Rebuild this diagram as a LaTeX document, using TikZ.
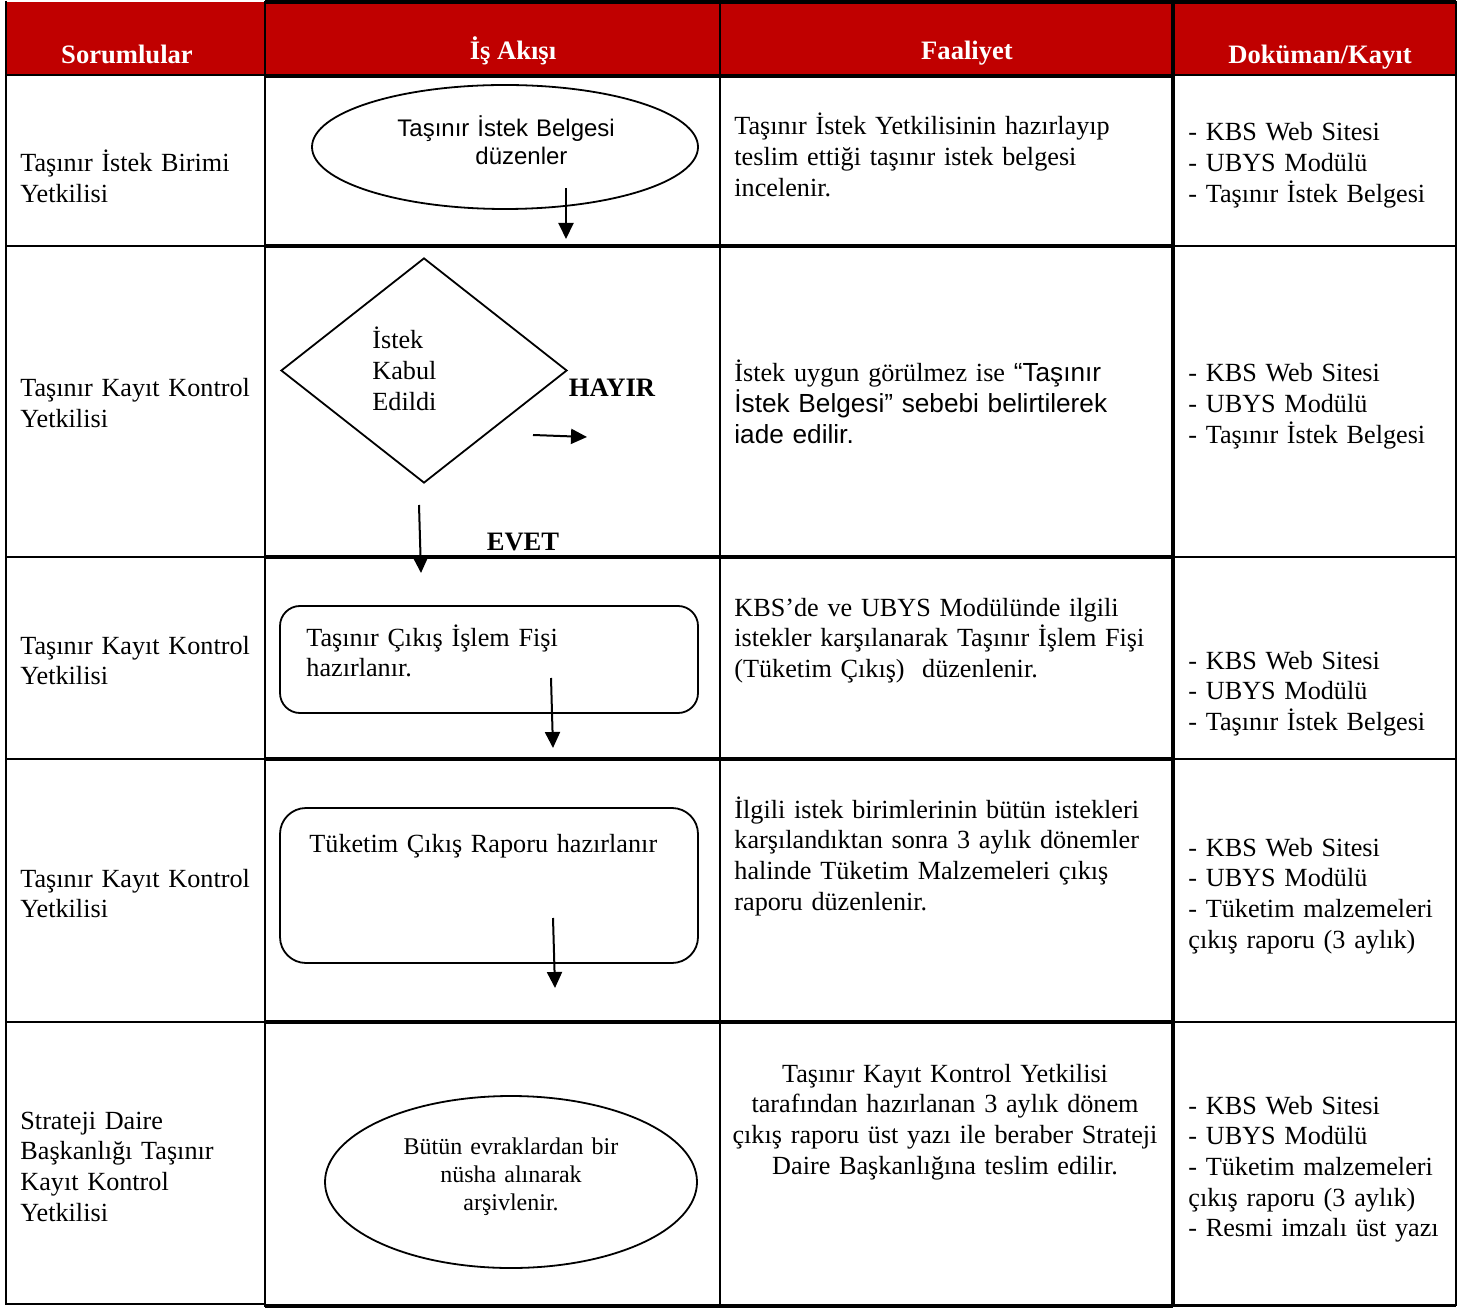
\documentclass[tikz,border=0pt]{standalone}
\usepackage{fontspec}
\setmainfont{Liberation Serif}
\newfontfamily\arialf{Liberation Sans}
\usetikzlibrary{shapes.geometric,arrows.meta}
\definecolor{hdrred}{HTML}{C00000}
\begin{document}
\begin{tikzpicture}[x=0.5pt,y=-0.5pt,
  thinln/.style={line width=1pt},
  thickln/.style={line width=2pt},
  hdrtxt/.style={font=\bfseries\fontsize{13.3}{16}\selectfont, text=white, anchor=base, inner sep=0},
  body/.style={font=\fontsize{13.1}{15.35}\selectfont, anchor=base west, inner sep=0, text width=#1, align=left},
  body/.default=220pt,
  cbody/.style={font=\fontsize{13.1}{15.35}\selectfont, anchor=base, inner sep=0, text width=#1, align=center},
  boldlbl/.style={font=\bfseries\fontsize{13.3}{16}\selectfont, anchor=base, inner sep=0},
  flowline/.style={draw, line width=0.9pt},
  flowell/.style={flowline, ellipse, inner sep=0},
  flowdia/.style={flowline, diamond, inner sep=0},
  flowbox/.style={flowline, rectangle, inner sep=0},
  arr/.style={line width=1pt, -{Triangle[length=8pt,width=7.5pt]}}
]
\useasboundingbox (0,0) rectangle (1465,1309);

% header band
\fill[hdrred] (6,2) rectangle (1456,75);

% horizontal lines: column 1 (thin)
\foreach \yy in {75,246,557,759,1022,1304} \draw[thinln] (6,\yy) -- (265,\yy);
% columns 2-3 (thick)
\draw[thickln] (265,2.5) -- (1456,2.5);
\foreach \yy in {76,246,557,759,1022,1306} \draw[thickln] (265,\yy) -- (1173,\yy);
% column 4
\foreach \yy in {75,246,557,759,1022} \draw[thinln] (1173,\yy) -- (1456,\yy);
\draw[line width=1.5pt] (1173,1305) -- (1456,1305);
% vertical lines
\draw[thinln] (6,1) -- (6,1305);
\draw[thinln] (265,1) -- (265,1307);
\draw[thinln] (720,1) -- (720,1307);
\draw[thickln] (1173,1) -- (1173,1307);
\draw[thinln] (1456,1) -- (1456,1306);

% header texts
\node[hdrtxt] (h1) at (127,64) {Sorumlular};
\node[hdrtxt] (h2) at (513,60) {İş Akışı};
\node[hdrtxt] (h3) at (967,60) {Faaliyet};
\node[hdrtxt] (h4) at (1320,64) {Doküman/Kayıt};

% Sorumlular column
\node[body] (s1) at (20,172) {Taşınır İstek Birimi\\Yetkilisi};
\node[body] (s2) at (20,397) {Taşınır Kayıt Kontrol\\Yetkilisi};
\node[body] (s3) at (20,654) {Taşınır Kayıt Kontrol\\Yetkilisi};
\node[body] (s4) at (20,887) {Taşınır Kayıt Kontrol\\Yetkilisi};
\node[body] (s5) at (20,1129) {Strateji Daire\\Başkanlığı Taşınır\\Kayıt Kontrol\\Yetkilisi};

% Faaliyet column
\node[body] (f1) at (734,135) {Taşınır İstek Yetkilisinin hazırlayıp\\teslim ettiği taşınır istek belgesi\\incelenir.};
\node[body] (f2) at (734,382) {İstek uygun görülmez ise {\arialf “Taşınır}\\{\arialf İstek Belgesi” sebebi belirtilerek}\\{\arialf iade edilir.}};
\node[body] (f3) at (734,616) {KBS’de ve UBYS Modülünde ilgili\\istekler karşılanarak Taşınır İşlem Fişi\\(Tüketim Çıkış)\ \ düzenlenir.};
\node[body] (f4) at (734,818) {İlgili istek birimlerinin bütün istekleri\\karşılandıktan sonra 3 aylık dönemler\\halinde Tüketim Malzemeleri çıkış\\raporu düzenlenir.};
\node[cbody=220pt] (f5) at (945,1082) {Taşınır Kayıt Kontrol Yetkilisi\\tarafından hazırlanan 3 aylık dönem\\çıkış raporu üst yazı ile beraber Strateji\\Daire Başkanlığına teslim edilir.};

% Doküman/Kayıt column
\node[body] (d1) at (1188,141) {- KBS Web Sitesi\\- UBYS Modülü\\- Taşınır İstek Belgesi};
\node[body] (d2) at (1188,382) {- KBS Web Sitesi\\- UBYS Modülü\\- Taşınır İstek Belgesi};
\node[body] (d3) at (1188,669) {- KBS Web Sitesi\\- UBYS Modülü\\- Taşınır İstek Belgesi};
\node[body] (d4) at (1188,856) {- KBS Web Sitesi\\- UBYS Modülü\\- Tüketim malzemeleri\\çıkış raporu (3 aylık)};
\node[body] (d5) at (1188,1114) {- KBS Web Sitesi\\- UBYS Modülü\\- Tüketim malzemeleri\\çıkış raporu (3 aylık)\\- Resmi imzalı üst yazı};

% flow shapes
\node[flowell, minimum width=193pt, minimum height=62pt] (e1) at (505,147) {};
\node[font=\arialf\fontsize{12}{14}\selectfont, anchor=base west, inner sep=0, text width=150pt, align=left] (e1t) at (397,137) {Taşınır İstek Belgesi\\\hspace*{39pt}düzenler};

\node[flowdia, minimum width=143pt, minimum height=112.5pt] (dia) at (424,370.5) {};
\node[body=60pt] (diat) at (372,349) {İstek\\Kabul\\Edildi};
\node[boldlbl] (hayir) at (612,397) {HAYIR};
\node[boldlbl] (evet) at (523,551) {EVET};

\node[flowbox, rounded corners=10pt, minimum width=209pt, minimum height=53.5pt] (r2) at (489,659.5) {};
\node[body] (r2t) at (306,646) {Taşınır Çıkış İşlem Fişi\\hazırlanır.};

\node[flowbox, rounded corners=13pt, minimum width=209pt, minimum height=77.5pt] (r3) at (489,885.5) {};
\node[body] (r3t) at (309,852) {Tüketim Çıkış Raporu hazırlanır};

\node[flowell, minimum width=186pt, minimum height=86pt] (e5) at (511,1182) {};
\node[font=\fontsize{12}{14}\selectfont, anchor=base, inner sep=0, text width=150pt, align=center] (e5t) at (511,1154) {Bütün evraklardan bir\\nüsha alınarak\\arşivlenir.};

% arrows
\coordinate (a1s) at (566,188); \coordinate (a1e) at (566,239);
\coordinate (a2s) at (533,435); \coordinate (a2e) at (587,437);
\coordinate (a3s) at (419,505); \coordinate (a3e) at (421,573);
\coordinate (a4s) at (551,678); \coordinate (a4e) at (553,748);
\coordinate (a5s) at (553,918); \coordinate (a5e) at (555,988);
\draw[arr] (a1s) -- (a1e);
\draw[arr] (a2s) -- (a2e);
\draw[arr] (a3s) -- (a3e);
\draw[arr] (a4s) -- (a4e);
\draw[arr] (a5s) -- (a5e);
\end{tikzpicture}
\end{document}
